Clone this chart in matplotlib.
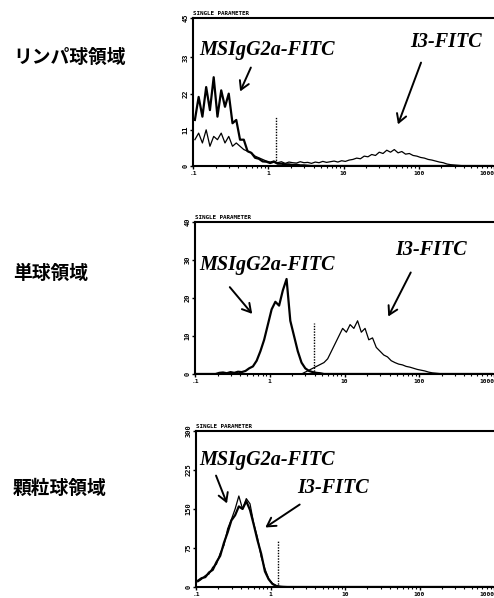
import numpy as np
import matplotlib
matplotlib.use("Agg")
import matplotlib.pyplot as plt

# ---------------- data ----------------
region_labels = ["リンパ球領域", "単球領域", "顆粒球領域"]
y_ticks_1 = [0, 11, 22, 33, 45]
y_ticks_2 = [0, 10, 20, 30, 40]
y_ticks_3 = [0, 75, 150, 225, 300]
x_tick_values = [0.1, 1, 10, 100, 1000]
x_tick_labels = [".1", "1", "10", "100", "1000"]

# channel grid: 20 channels per decade from 0.1 to 1000 (bin centres)
channels = 10 ** (-1 + 0.05 * (np.arange(80) + 0.5))

# Panel 1 (lymphocytes)
lym_ctrl = [14, 21, 15, 24, 17, 27, 15, 23, 18, 22, 13, 14, 8, 8, 4.5, 4, 2.5, 2.2, 1.4, 1.3,
            0.9, 1.3, 0.7, 0.7, 0.5, 0.5, 0.3, 0.4, 0.2, 0.2, 0.1, 0, 0, 0, 0, 0, 0, 0, 0, 0,
            0, 0, 0, 0, 0, 0, 0, 0, 0, 0, 0, 0, 0, 0, 0, 0, 0, 0, 0, 0,
            0, 0, 0, 0, 0, 0, 0, 0, 0, 0, 0, 0, 0, 0, 0, 0, 0, 0, 0, 0]
lym_i3 = [8, 10, 7, 11, 6, 9, 8, 10, 7, 9, 6, 7, 6, 5, 4.5, 4, 3, 2.5, 2, 1.5,
          1.2, 1.5, 1, 1.3, 0.8, 1.2, 1, 0.9, 1.3, 1, 1.1, 0.8, 1.2, 1, 1.4, 1.1, 1.3, 1.5, 1.2, 1.6,
          1.4, 1.8, 2.0, 2.4, 2.2, 3.0, 2.8, 3.5, 3.2, 4.2, 3.8, 4.8, 4.2, 5.0, 4.0, 4.4, 3.6, 3.8, 3.2, 3.0,
          2.6, 2.4, 2.0, 1.8, 1.5, 1.2, 1.0, 0.6, 0.4, 0.3, 0.2, 0.1, 0, 0, 0, 0, 0, 0, 0, 0]
lym_marker = 1.25

# Panel 2 (monocytes)
mono_ctrl = [0, 0, 0, 0, 0, 0, 0.3, 0.4, 0.2, 0.5, 0.3, 0.6, 0.5, 0.8, 1.5, 2, 3.5, 6, 9, 13,
             17, 19, 18, 22, 25, 14, 10, 6, 3, 1.5, 0.8, 0.5, 0.3, 0.2, 0, 0, 0, 0, 0, 0,
             0, 0, 0, 0, 0, 0, 0, 0, 0, 0, 0, 0, 0, 0, 0, 0, 0, 0, 0, 0,
             0, 0, 0, 0, 0, 0, 0, 0, 0, 0, 0, 0, 0, 0, 0, 0, 0, 0, 0, 0]
mono_i3 = [0, 0, 0, 0, 0, 0, 0, 0, 0, 0, 0, 0, 0, 0, 0, 0, 0, 0, 0, 0,
           0, 0, 0, 0, 0, 0, 0, 0, 0, 0.5, 1, 1.5, 2, 2.5, 3, 4, 6, 8, 10, 12,
           11, 13, 12, 14, 11, 12, 9, 9.5, 7, 6, 5, 4.5, 3.5, 3, 2.6, 2.4, 2, 1.8, 1.5, 1.2,
           1, 0.8, 0.5, 0.3, 0.2, 0.1, 0, 0, 0, 0, 0, 0, 0, 0, 0, 0, 0, 0, 0, 0]
mono_marker = 3.9

# Panel 3 (granulocytes)
gran_ctrl = [12, 17, 19, 28, 33, 48, 60, 85, 105, 128, 138, 155, 150, 165, 148, 120, 90, 64, 30, 15,
             6, 2, 0.8, 0.3, 0, 0, 0, 0, 0, 0, 0, 0, 0, 0, 0, 0, 0, 0, 0, 0,
             0, 0, 0, 0, 0, 0, 0, 0, 0, 0, 0, 0, 0, 0, 0, 0, 0, 0, 0, 0,
             0, 0, 0, 0, 0, 0, 0, 0, 0, 0, 0, 0, 0, 0, 0, 0, 0, 0, 0, 0]
gran_i3 = [10, 15, 22, 25, 38, 44, 65, 80, 112, 130, 150, 175, 150, 170, 160, 122, 95, 58, 35, 16,
           7, 3, 1, 0.4, 0, 0, 0, 0, 0, 0, 0, 0, 0, 0, 0, 0, 0, 0, 0, 0,
           0, 0, 0, 0, 0, 0, 0, 0, 0, 0, 0, 0, 0, 0, 0, 0, 0, 0, 0, 0,
           0, 0, 0, 0, 0, 0, 0, 0, 0, 0, 0, 0, 0, 0, 0, 0, 0, 0, 0, 0]
gran_marker = 1.26

panels = [
    dict(label=region_labels[0], ctrl=lym_ctrl, i3=lym_i3, marker=lym_marker,
         marker_h=15, yticks=y_ticks_1),
    dict(label=region_labels[1], ctrl=mono_ctrl, i3=mono_i3, marker=mono_marker,
         marker_h=13.4, yticks=y_ticks_2),
    dict(label=region_labels[2], ctrl=gran_ctrl, i3=gran_i3, marker=gran_marker,
         marker_h=88, yticks=y_ticks_3),
]

# ---------------- layout (pixels) ----------------
W, H = 494, 598
fig = plt.figure(figsize=(W / 100, H / 100), dpi=100)
fig.patch.set_facecolor("white")

# left, top, right, bottom in pixels
boxes = [(193, 18, 494, 166), (195, 222, 494, 374), (196, 431, 494, 587)]
label_y = [57, 273, 488]


def fx(px):
    return px / W


def fy(py):
    return 1 - py / H


serif = ["Liberation Serif", "DejaVu Serif"]
tick_font = dict(family="DejaVu Sans Mono", weight="bold", size=5)

# annotations: (text, text x0, text y centre, arrow start, arrow end) in pixels
annots = [
    [("MSIgG2a-FITC", 199, 50, (252, 65), (239, 94)),
     ("I3-FITC", 410, 42, (422, 60), (397, 127))],
    [("MSIgG2a-FITC", 199, 265, (228, 285), (254, 316)),
     ("I3-FITC", 395, 250, (412, 270), (387, 319))],
    [("MSIgG2a-FITC", 199, 460, (215, 473), (228, 506)),
     ("I3-FITC", 297, 488, (302, 503), (263, 529))],
]

for p, box, ly, ann in zip(panels, boxes, label_y, annots):
    l, t, r, b = box
    ax = fig.add_axes([fx(l), fy(b), fx(r) - fx(l), fy(t) - fy(b)])
    ax.set_xscale("log")
    ax.set_xlim(0.1, 1000)
    ymax = p["yticks"][-1]
    ax.set_ylim(0, ymax)
    ax.plot(channels, p["i3"], color="black", lw=0.9)
    ax.plot(channels, p["ctrl"], color="black", lw=1.6)
    ax.vlines(p["marker"], 0, p["marker_h"], colors="black", lw=1.0,
              linestyles=(0, (1, 1)))
    ax.set_xticks(x_tick_values)
    ax.set_xticklabels(x_tick_labels, family="DejaVu Sans Mono", weight="bold",
                       size=4.5)
    ax.get_xticklabels()[-1].set_ha("right")
    ax.set_yticks(p["yticks"])
    ax.set_yticklabels([str(v) for v in p["yticks"]], rotation=90, va="center",
                       **tick_font)
    ax.tick_params(axis="both", which="major", length=2.5, width=1.0, pad=1.0,
                   direction="out")
    ax.tick_params(axis="x", which="minor", length=1.5, width=0.8, direction="out")
    for s in ["left", "bottom", "top"]:
        ax.spines[s].set_linewidth(1.5)
    ax.spines["right"].set_visible(False)
    ax.text(0.0, 1.015, "SINGLE PARAMETER", transform=ax.transAxes,
            ha="left", va="bottom", family="DejaVu Sans Mono", weight="bold",
            size=4.2)
    fig.text(fx(13), fy(ly), p["label"], ha="left", va="center",
             family=["Noto Sans CJK JP", "DejaVu Sans"], weight="bold", size=13.5)
    for txt, tx, ty, a0, a1 in ann:
        fig.text(fx(tx), fy(ty), txt, ha="left", va="center",
                 family=serif, style="italic", weight="bold", size=14.5)
        fig.add_artist(matplotlib.patches.FancyArrowPatch(
            (fx(a0[0]), fy(a0[1])), (fx(a1[0]), fy(a1[1])),
            transform=fig.transFigure, arrowstyle="->,head_length=6,head_width=3.5",
            lw=1.4, color="black", mutation_scale=1))

fig.savefig("out.png", dpi=100, facecolor="white")
